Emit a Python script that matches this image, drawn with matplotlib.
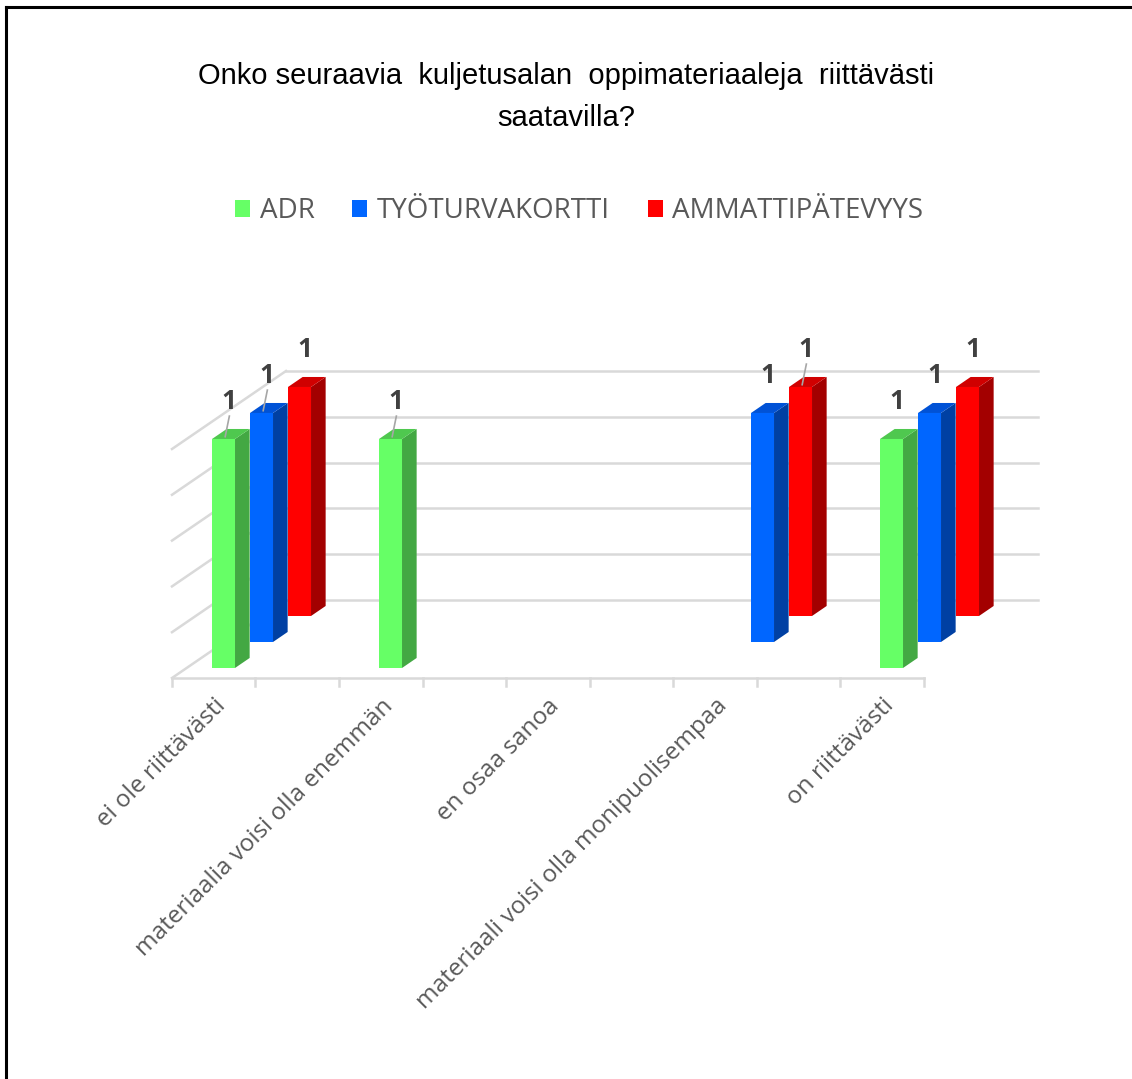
import matplotlib.pyplot as plt
from matplotlib.patches import Polygon, Patch
from matplotlib.lines import Line2D

# data
categories = ['ei ole riittävästi', 'materiaalia voisi olla enemmän', 'en osaa sanoa',
              'materiaali voisi olla monipuolisempaa', 'on riittävästi']
series_names = ['ADR', 'TYÖTURVAKORTTI', 'AMMATTIPÄTEVYYS']
adr = [1, 1, None, None, 1]
tyoturvakortti = [1, None, None, 1, 1]
ammattipatevyys = [1, None, None, 1, 1]
series_values = [adr, tyoturvakortti, ammattipatevyys]
grid_values = [0, 0.2, 0.4, 0.6, 0.8, 1.0]

front_colors = ['#66FF66', '#0066FF', '#FF0000']
side_colors = ['#43A843', '#0040A3', '#A30000']
top_colors = ['#4FC84F', '#0052D6', '#D00000']
grid_color = '#D9D9D9'
text_color = '#595959'

# labels that Excel drew with a leader line: (series, category)
leader_labels = [(0, 0), (1, 0), (0, 1), (2, 3)]

# fake 3D: one depth row per series, oblique projection in data units
DX = 38 / 167      # x shift per depth row
DY = 26 / 229      # y shift per depth row
BAR_W = 23 / 167
BAR_OFF = 0.152
BAR_D = 0.385      # bar depth (fraction of a row), also its offset in the row
FLOOR_W = 4.5
n_rows = len(series_values)

fig = plt.figure(figsize=(11.32, 10.79), dpi=100)
ax = fig.add_axes([0, 0, 1, 1])
ax.set_xlim(-172 / 167, 960 / 167)
ax.set_ylim(-401 / 229, 678 / 229)
ax.axis('off')

# walls and floor
for v in grid_values:
    ax.plot([n_rows * DX, FLOOR_W + n_rows * DX], [n_rows * DY + v] * 2,
            color=grid_color, lw=1.8, zorder=1)
    ax.plot([0, n_rows * DX], [v, n_rows * DY + v], color=grid_color, lw=1.8, zorder=1)
ax.plot([0, FLOOR_W], [0, 0], color=grid_color, lw=1.8, zorder=1)
for k in range(int(FLOOR_W * 2) + 1):
    ax.plot([k * 0.5] * 2, [0, -0.035], color=grid_color, lw=1.8, zorder=1)

# bars, back rows first
for i in reversed(range(n_rows)):
    d0 = i + BAR_D
    for k, v in enumerate(series_values[i]):
        if v is None:
            continue
        x0 = k + BAR_OFF + d0 * DX
        y0 = d0 * DY
        ddx, ddy = BAR_D * DX, BAR_D * DY
        z = 10 - i
        ax.bar(x0, v, BAR_W, bottom=y0, align='edge', color=front_colors[i],
               lw=0, zorder=z)
        ax.add_patch(Polygon([(x0 + BAR_W, y0), (x0 + BAR_W + ddx, y0 + ddy),
                              (x0 + BAR_W + ddx, y0 + ddy + v), (x0 + BAR_W, y0 + v)],
                             closed=True, color=side_colors[i], lw=0, zorder=z))
        ax.add_patch(Polygon([(x0, y0 + v), (x0 + BAR_W, y0 + v),
                              (x0 + BAR_W + ddx, y0 + v + ddy), (x0 + ddx, y0 + v + ddy)],
                             closed=True, color=top_colors[i], lw=0, zorder=z))
        lx = x0 + BAR_W / 2 + 0.03
        ly = y0 + v + 0.105
        ax.text(lx, ly, f'{v}', ha='center', va='bottom',
                fontsize=19, fontweight='bold', color='#404040', family='Open Sans',
                zorder=20)
        if (i, k) in leader_labels:
            ax.plot([x0 + BAR_W / 2 + 0.01, lx + 0.005], [y0 + v + 0.01, ly - 0.005],
                    color='#A6A6A6', lw=1.2, zorder=21)

# category labels
for k, name in enumerate(categories):
    ax.text(k + 0.25, -0.07, name, rotation=45, rotation_mode='anchor',
            ha='right', va='top', fontsize=17.5, color=text_color, family='Open Sans')

fig.text(0.5, 1 - 76 / 1079, 'Onko seuraavia  kuljetusalan  oppimateriaaleja  riittävästi',
         ha='center', va='center', fontsize=21, color='black', family='Liberation Sans')
fig.text(0.5, 1 - 118 / 1079, 'saatavilla?',
         ha='center', va='center', fontsize=21, color='black', family='Liberation Sans')

handles = [Patch(facecolor=c, edgecolor='none') for c in front_colors]
fig.legend(handles, series_names, loc='center', bbox_to_anchor=(0.5 + 13 / 1132, 1 - 211 / 1079),
           ncol=3, frameon=False, handlelength=0.55, handleheight=0.55,
           handletextpad=0.35, columnspacing=1.35, labelcolor=text_color,
           prop={'family': 'Open Sans', 'size': 20})

# chart border (left and top only visible)
fig.add_artist(Line2D([6 / 1132, 6 / 1132], [0, 1 - 7 / 1079], color='black', lw=2.2,
                      transform=fig.transFigure))
fig.add_artist(Line2D([6 / 1132, 1], [1 - 7 / 1079, 1 - 7 / 1079], color='black', lw=2.2,
                      transform=fig.transFigure))

fig.savefig('out.png', dpi=100)
